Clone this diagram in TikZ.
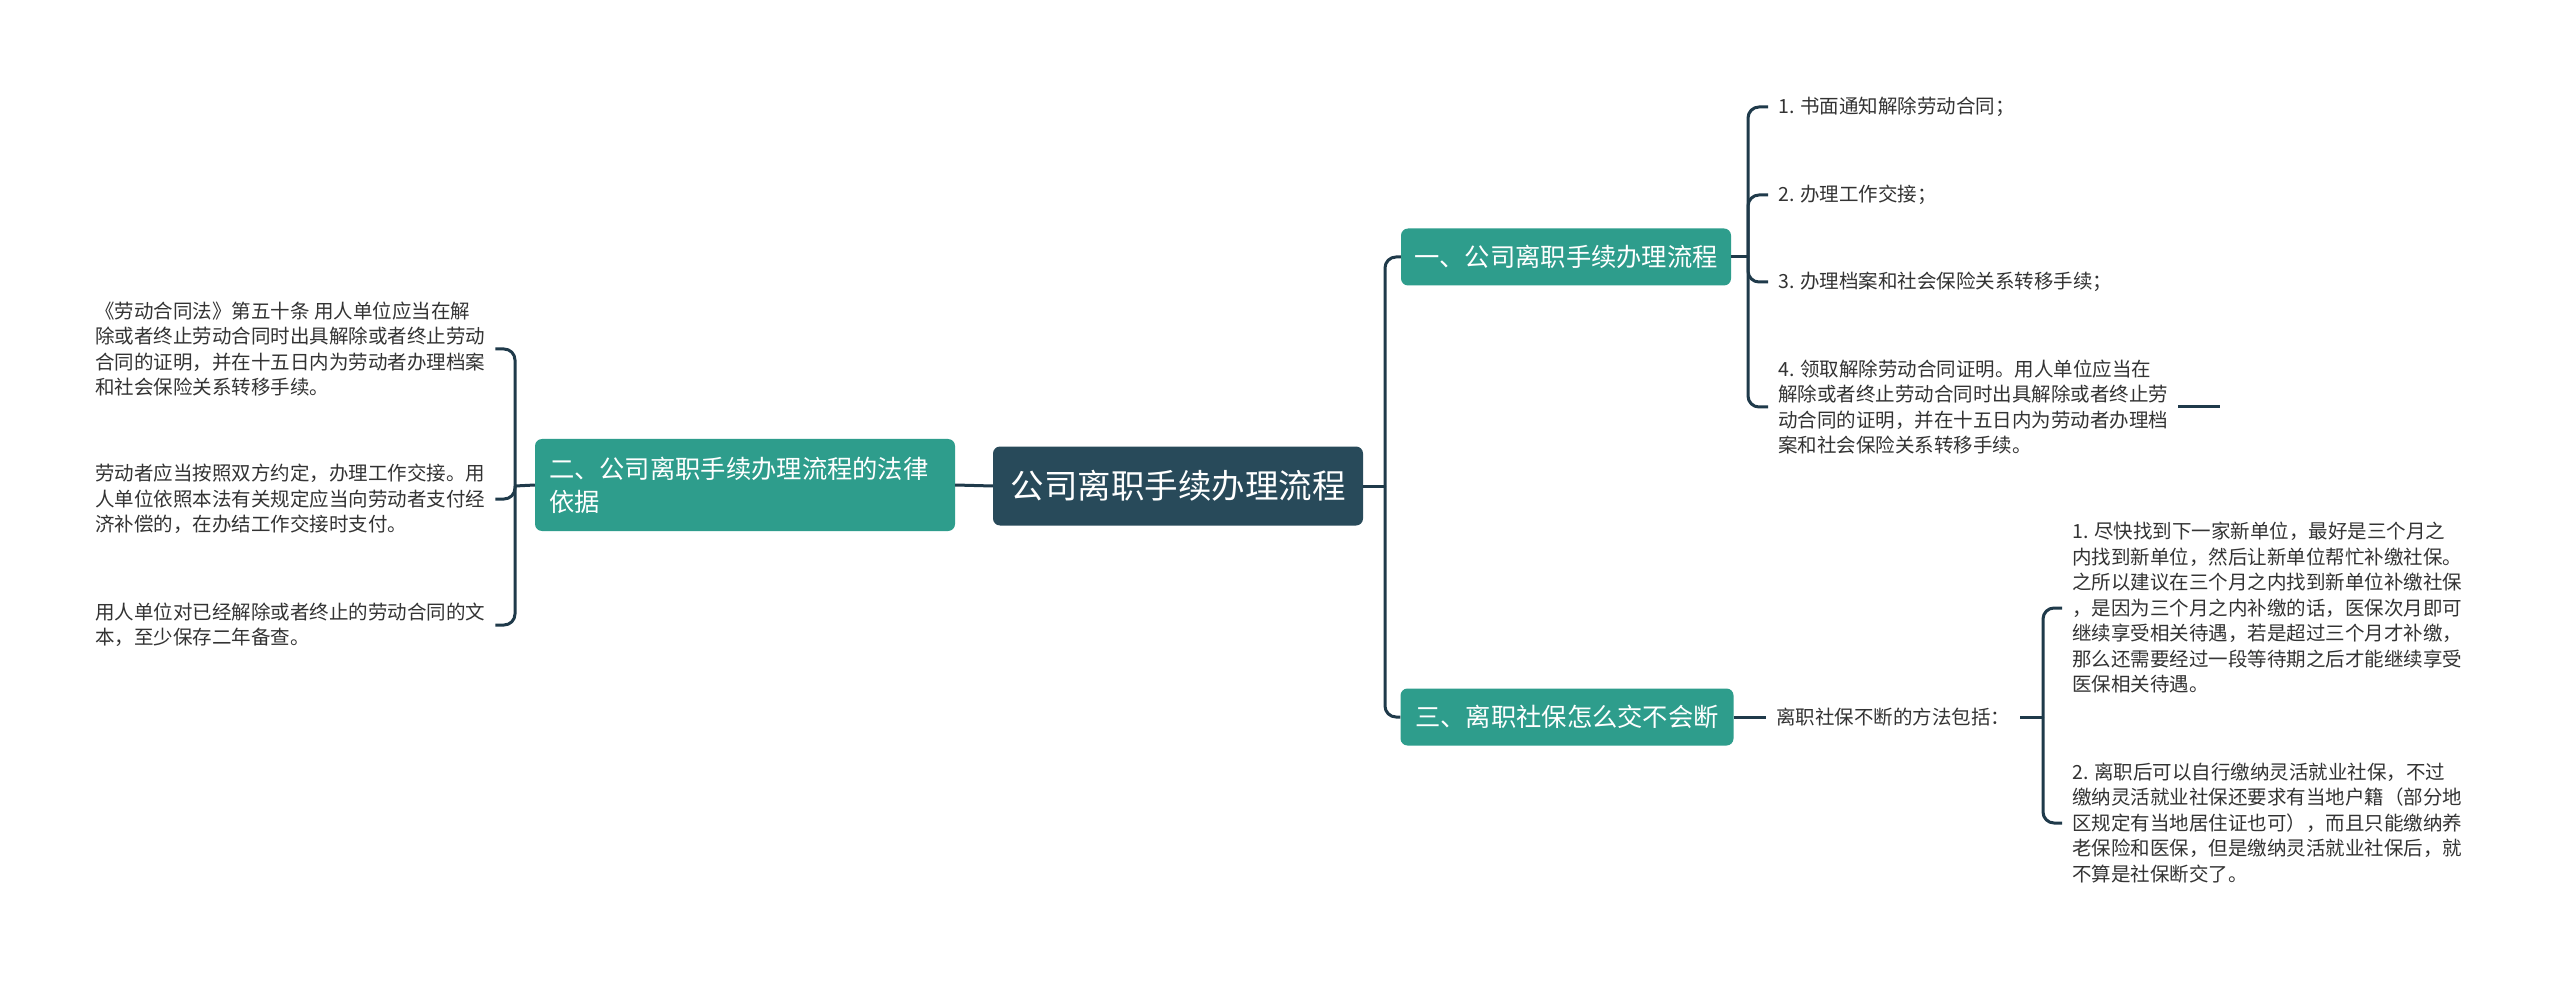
\documentclass[tikz,border=0pt]{standalone}
\usepackage{fontspec}
\setmainfont{Noto Sans CJK SC}
\definecolor{rootc}{HTML}{284A5A}
\definecolor{teal}{HTML}{2E9D8C}
\definecolor{conn}{HTML}{1F3A4A}
\definecolor{leaftxt}{HTML}{333333}
\tikzset{
  rootbox/.style={draw=none, fill=rootc, rounded corners=7pt, text=white, inner sep=0pt,
    font={\fontsize{33.5pt}{40pt}\selectfont}},
  branchbox/.style={draw=none, fill=teal, rounded corners=7pt, text=white, inner sep=0pt,
    font={\fontsize{25.3pt}{33pt}\selectfont}},
  leaftext/.style={align=left, text=leaftxt, inner xsep=10pt, inner ysep=3pt,
    font={\fontsize{19.5pt}{25.5pt}\selectfont}},
  link/.style={draw=conn, line width=3pt},
  rlink/.style={draw=conn, line width=3pt, rounded corners=11pt},
}
\begin{document}
\begin{tikzpicture}[x=1pt,y=-1pt]
\useasboundingbox (0,0) rectangle (2560,981);
\fill[white] (0,0) rectangle (2560,981);

% main nodes
\node[rootbox, minimum width=370pt, minimum height=79pt] (root) at (1178,486) {公司离职手续办理流程};
\node[branchbox, minimum width=330pt, minimum height=57pt] (b1) at (1566,257) {一、公司离职手续办理流程};
\node[branchbox, minimum width=420pt, minimum height=92pt, text width=392pt, align=left] (b2) at (745,485) {二、公司离职手续办理流程的法律\\依据};
\node[branchbox, minimum width=333pt, minimum height=57pt] (b3) at (1567,717) {三、离职社保怎么交不会断};

% left leaves
\node[leaftext, anchor=west] (lA) at (85,349) {《劳动合同法》第五十条 用人单位应当在解\\除或者终止劳动合同时出具解除或者终止劳动\\合同的证明，并在十五日内为劳动者办理档案\\和社会保险关系转移手续。};
\node[leaftext, anchor=west] (lB) at (85,499) {劳动者应当按照双方约定，办理工作交接。用\\人单位依照本法有关规定应当向劳动者支付经\\济补偿的，在办结工作交接时支付。};
\node[leaftext, anchor=west] (lC) at (85,625) {用人单位对已经解除或者终止的劳动合同的文\\本，至少保存二年备查。};

% right top leaves
\node[leaftext, anchor=west] (r1) at (1768,107) {1. 书面通知解除劳动合同；};
\node[leaftext, anchor=west] (r2) at (1768,195) {2. 办理工作交接；};
\node[leaftext, anchor=west] (r3) at (1768,282) {3. 办理档案和社会保险关系转移手续；};
\node[leaftext, anchor=west] (r4) at (1768,407) {4. 领取解除劳动合同证明。用人单位应当在\\解除或者终止劳动合同时出具解除或者终止劳\\动合同的证明，并在十五日内为劳动者办理档\\案和社会保险关系转移手续。};

% right bottom
\node[leaftext, anchor=west] (lab) at (1766,717) {离职社保不断的方法包括：};
\node[leaftext, anchor=west] (s1) at (2062,608) {1. 尽快找到下一家新单位，最好是三个月之\\内找到新单位，然后让新单位帮忙补缴社保。\\之所以建议在三个月之内找到新单位补缴社保\\，是因为三个月之内补缴的话，医保次月即可\\继续享受相关待遇，若是超过三个月才补缴，\\那么还需要经过一段等待期之后才能继续享受\\医保相关待遇。};
\node[leaftext, anchor=west] (s2) at (2062,823) {2. 离职后可以自行缴纳灵活就业社保，不过\\缴纳灵活就业社保还要求有当地户籍（部分地\\区规定有当地居住证也可），而且只能缴纳养\\老保险和医保，但是缴纳灵活就业社保后，就\\不算是社保断交了。};

% junction coordinates
\coordinate (jr) at (1385,486);
\coordinate (jl) at (515,486);
\coordinate (j1) at (1748,257);
\coordinate (j3) at (2043,717);
\coordinate (stub) at (2220,407);

% connectors
\draw[link] (root.east) -- (jr);
\draw[rlink] (jr) |- (b1.west);
\draw[rlink] (jr) |- (b3.west);
\draw[link] (root.west) -- (b2.east);

\draw[link] (b2.west) -- (jl);
\draw[rlink] (jl) |- (lA.east);
\draw[rlink] (jl) |- (lB.east);
\draw[rlink] (jl) |- (lC.east);

\draw[link] (b1.east) -- (j1);
\draw[rlink] (j1) |- (r1.west);
\draw[rlink] (j1) |- (r2.west);
\draw[rlink] (j1) |- (r3.west);
\draw[rlink] (j1) |- (r4.west);
\draw[link] (r4.east) -- (stub);

\draw[link] (b3.east) -- (lab.west);
\draw[link] (lab.east) -- (j3);
\draw[rlink] (j3) |- (s1.west);
\draw[rlink] (j3) |- (s2.west);
\end{tikzpicture}
\end{document}
